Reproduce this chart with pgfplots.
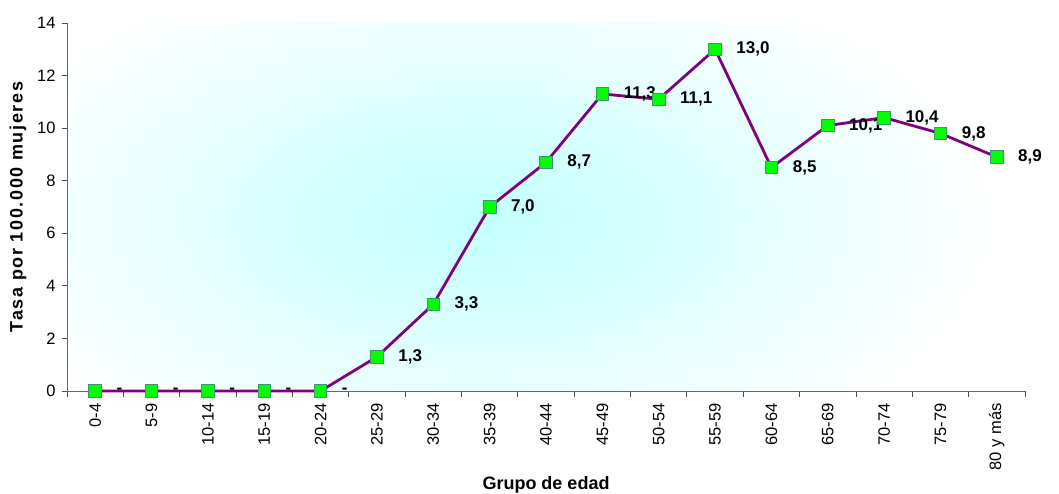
\documentclass[border=0pt]{standalone}
\usepackage{fontspec}
\setmainfont{Liberation Sans}
\usepackage{pgfplots}
\pgfplotsset{compat=1.18}
\definecolor{linecol}{RGB}{128,0,128}
\definecolor{markfill}{RGB}{0,255,0}
\definecolor{markdraw}{RGB}{60,150,110}
\definecolor{bgcyan}{RGB}{195,255,255}
\begin{document}
\begin{tikzpicture}
\begin{axis}[
  name=ax,
  set layers,
  scale only axis,
  width=958pt, height=368pt,
  xmin=-0.5, xmax=16.5,
  ymin=0, ymax=14,
  ytick={0,2,...,14},
  xtick={0,...,16},
  xticklabels={0-4,5-9,10-14,15-19,20-24,25-29,30-34,35-39,40-44,45-49,50-54,55-59,60-64,65-69,70-74,75-79,80 y más},
  minor xtick={-0.5,0.5,...,16.5},
  major x tick style={draw=none},
  tick align=outside,
  major tick length=5pt,
  minor tick length=6pt,
  every tick/.style={black!70, line width=0.8pt},
  axis x line*=bottom,
  axis y line*=left,
  axis line style={black!60, line width=1pt, -},
  x tick label style={rotate=90, anchor=east, font=\fontsize{16.5}{18}\selectfont, xshift=-4pt},
  y tick label style={font=\fontsize{16.5}{18}\selectfont, xshift=-3pt},
  /pgf/number format/assume math mode=true,
  xlabel={Grupo de edad},
  ylabel={Tasa por 100.000 mujeres},
  every axis x label/.style={at={([yshift=-94pt]axis description cs:0.5,0)}, anchor=center, font=\fontsize{18}{20}\selectfont\bfseries},
  every axis y label/.style={at={([xshift=-49pt]axis description cs:0,0.5)}, anchor=center, rotate=90, font=\fontsize{18}{20}\selectfont\bfseries\addfontfeatures{LetterSpace=9}},
  clip=false,
]
\begin{pgfonlayer}{axis background}
\begin{scope}
\clip (rel axis cs:0,0) rectangle (rel axis cs:1,1);
\shade[inner color=bgcyan, outer color=white] (axis cs:6.8,6.5) ellipse [x radius=520pt, y radius=270pt];
\end{scope}
\end{pgfonlayer}
\addplot[
  color=linecol, line width=2.8pt,
  mark=square*, mark size=6.3pt,
  mark options={fill=markfill, draw=markdraw, line width=0.8pt},
  point meta=explicit symbolic,
  nodes near coords,
  every node near coord/.style={anchor=west, inner sep=0pt, xshift=21pt, font=\fontsize{17}{19}\selectfont\bfseries, black},
] coordinates {
(0,0) [-]
(1,0) [-]
(2,0) [-]
(3,0) [-]
(4,0) [-]
(5,1.3) [1,3]
(6,3.3) [3,3]
(7,7.0) [7,0]
(8,8.7) [8,7]
(9,11.3) [11,3]
(10,11.1) [11,1]
(11,13.0) [13,0]
(12,8.5) [8,5]
(13,10.1) [10,1]
(14,10.4) [10,4]
(15,9.8) [9,8]
(16,8.9) [8,9]
};
\end{axis}
\pgfresetboundingbox
\path ([shift={(-67pt,-102pt)}]ax.south west) rectangle ([shift={(34pt,23pt)}]ax.north east);
\end{tikzpicture}
\end{document}
